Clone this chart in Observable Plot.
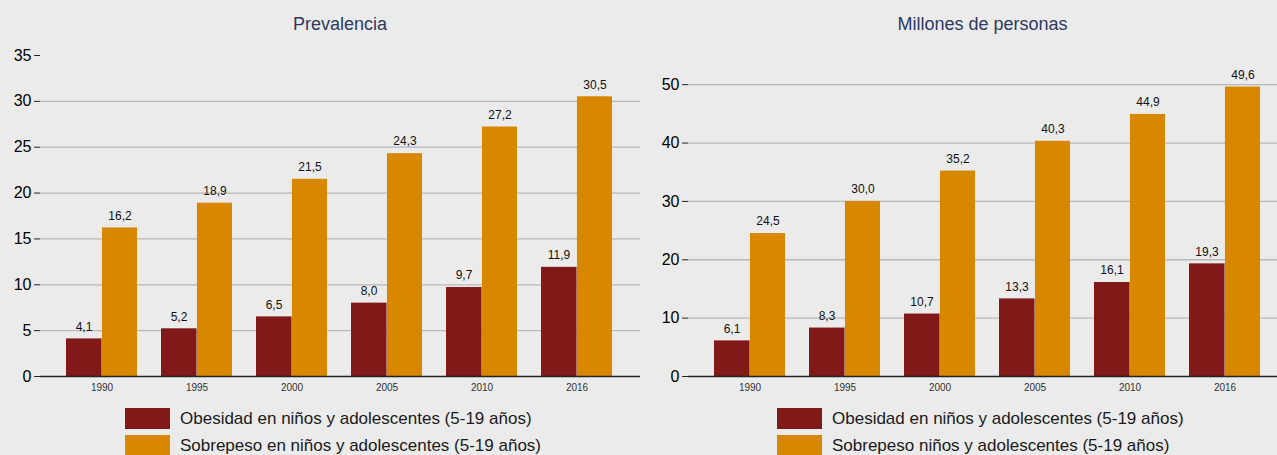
<!DOCTYPE html>
<html>
<head>
<meta charset="utf-8">
<script src="https://cdn.jsdelivr.net/npm/d3@7"></script>
<script src="https://cdn.jsdelivr.net/npm/@observablehq/plot@0.6"></script>
<style>
  html, body { margin: 0; padding: 0; background: #ebebeb; overflow: hidden; }
  body { font-family: "Liberation Sans", Arial, sans-serif; width: 1277px; height: 455px; }
  #wrap { display: flex; flex-direction: row; }
  .panel { position: relative; }
  .title { height: 40px; line-height: 49px; font-size: 18px; color: #2c3a5f; text-align: center; }
  .legend { margin-top: 8px; }
  .legend .block { display: flex; flex-direction: column; gap: 6px; }
  .legend .row { display: flex; align-items: center; height: 21px; font-size: 17px; color: #1a1a1a; white-space: nowrap; }
  .legend .sw { width: 45px; height: 21px; margin-right: 10px; flex: none; }
  svg { overflow: visible; }
</style>
</head>
<body>
<div id="wrap"></div>
<script>
// ---- data ----
const years = ["1990", "1995", "2000", "2005", "2010", "2016"];
const prevObesidad = [4.1, 5.2, 6.5, 8.0, 9.7, 11.9];
const prevSobrepeso = [16.2, 18.9, 21.5, 24.3, 27.2, 30.5];
const millObesidad = [6.1, 8.3, 10.7, 13.3, 16.1, 19.3];
const millSobrepeso = [24.5, 30.0, 35.2, 40.3, 44.9, 49.6];
const prevTicks = [0, 5, 10, 15, 20, 25, 30, 35];
const millTicks = [0, 10, 20, 30, 40, 50];
const titles = ["Prevalencia", "Millones de personas"];
const legendLeft = ["Obesidad en niños y adolescentes (5-19 años)", "Sobrepeso en niños y adolescentes (5-19 años)"];
const legendRight = ["Obesidad en niños y adolescentes (5-19 años)", "Sobrepeso niños y adolescentes (5-19 años)"];

const C1 = "#801918";
const C2 = "#d88700";
const FONT = "'Liberation Sans', Arial, sans-serif";
const fmt = v => d3.format(".1f")(v).replace(".", ",");

function panel({title, obes, sobre, yDomain, yTicks, gridTicks, width, marginLeft, xRange, legend, legendX}) {
  const rows = years.map((y, i) => ({year: y, obes: obes[i], sobre: sobre[i]}));
  const step = (xRange[1] - xRange[0]) / years.length;
  const bw = step * 0.75;
  const half = bw / 2;
  const div = document.createElement("div");
  div.className = "panel";
  div.style.width = width + "px";
  const t = document.createElement("div");
  t.className = "title";
  t.style.paddingLeft = marginLeft + "px";
  t.textContent = title;
  div.appendChild(t);
  const chart = Plot.plot({
    width, height: 360,
    marginTop: 15, marginBottom: 24, marginLeft, marginRight: 0,
    style: {background: "transparent", fontFamily: FONT, color: "#000", overflow: "visible"},
    x: {domain: years, range: xRange, paddingInner: 0.25, paddingOuter: 0.125, label: null},
    y: {domain: yDomain, label: null},
    marks: [
      Plot.ruleY(gridTicks, {stroke: "#b8b8b8", strokeWidth: 1.3}),
      Plot.barY(rows, {x: "year", y: "obes", fill: C1, insetLeft: 0, insetRight: half - 0.5}),
      Plot.barY(rows, {x: "year", y: "sobre", fill: C2, insetLeft: half, insetRight: 0}),
      Plot.text(rows, {x: "year", y: "obes", text: d => fmt(d.obes), dx: -half / 2, dy: -12, fontSize: 12, fill: "#111"}),
      Plot.text(rows, {x: "year", y: "sobre", text: d => fmt(d.sobre), dx: half / 2, dy: -12, fontSize: 12, fill: "#111"}),
      Plot.ruleY([0], {stroke: "#222", strokeWidth: 1.3}),
      Plot.axisX({tickSize: 0, tickPadding: 7, fontSize: 10, fill: "#333", label: null}),
      Plot.axisY({ticks: yTicks, tickSize: 6, tickPadding: 3, fontSize: 16, tickFormat: d => String(d), stroke: "#222", label: null})
    ]
  });
  div.appendChild(chart);
  const lg = document.createElement("div");
  lg.className = "legend";
  lg.style.paddingLeft = legendX + "px";
  const block = document.createElement("div");
  block.className = "block";
  [[C1, legend[0]], [C2, legend[1]]].forEach(([c, txt]) => {
    const r = document.createElement("div");
    r.className = "row";
    const sw = document.createElement("span");
    sw.className = "sw";
    sw.style.background = c;
    r.appendChild(sw);
    const s = document.createElement("span");
    s.textContent = txt;
    r.appendChild(s);
    block.appendChild(r);
  });
  lg.appendChild(block);
  div.appendChild(lg);
  return div;
}

const wrap = document.getElementById("wrap");
wrap.appendChild(panel({
  title: titles[0], obes: prevObesidad, sobre: prevSobrepeso,
  yDomain: [0, 35], yTicks: prevTicks, gridTicks: prevTicks.filter(d => d > 0 && d < 35),
  width: 640, marginLeft: 40, xRange: [52, 627], legend: legendLeft, legendX: 125
}));
wrap.appendChild(panel({
  title: titles[1], obes: millObesidad, sobre: millSobrepeso,
  yDomain: [0, 55], yTicks: millTicks, gridTicks: millTicks.filter(d => d > 0),
  width: 637, marginLeft: 48, xRange: [60, 635], legend: legendRight, legendX: 137
}));
</script>
</body>
</html>
